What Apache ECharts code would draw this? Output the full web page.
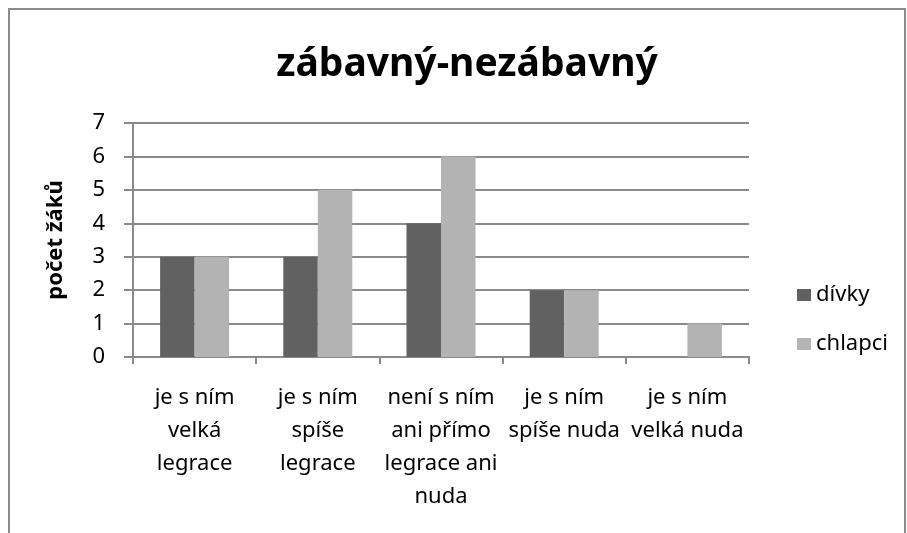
<!DOCTYPE html>
<html>
<head>
<meta charset="utf-8">
<script src="https://cdn.jsdelivr.net/npm/echarts@6/dist/echarts.min.js"></script>
<style>
  html, body { margin: 0; padding: 0; background: #fff; }
  #chart { width: 907px; height: 533px; }
</style>
</head>
<body>
<div id="chart"></div>
<script>
const categories = [
  'je s ním\nvelká\nlegrace',
  'je s ním\nspíše\nlegrace',
  'není s ním\nani přímo\nlegrace ani\nnuda',
  'je s ním\nspíše nuda',
  'je s ním\nvelká nuda'
]
const divky = [3, 3, 4, 2, 0]
const chlapci = [3, 5, 6, 2, 1]

const font = 'Noto Sans'
const gridColor = '#8a8a8a'

const chart = echarts.init(document.getElementById('chart'))

const option = {
  backgroundColor: '#fff',
  animation: false,
  title: {
    text: 'zábavný-nezábavný',
    left: 462,
    top: 40,
    textAlign: 'center',
    textStyle: { fontFamily: font, fontSize: 39, fontWeight: 'bold', color: '#000' }
  },
  graphic: [{
    type: 'rect',
    shape: { x: 9, y: 9, width: 896, height: 560 },
    style: { fill: 'none', stroke: '#8c8c8c', lineWidth: 2 },
    silent: true
  }],
  legend: {
    orient: 'vertical',
    left: 792,
    top: 279,
    itemWidth: 14,
    itemHeight: 12,
    itemGap: 27,
    itemStyle: { borderWidth: 0 },
    icon: 'rect',
    textStyle: { fontFamily: font, fontSize: 22, color: '#000' },
    data: ['dívky', 'chlapci']
  },
  grid: { left: 133, right: 158, top: 123, bottom: 176, containLabel: false },
  xAxis: {
    type: 'category',
    data: categories,
    axisLine: { lineStyle: { color: gridColor, width: 2 } },
    axisTick: { show: true, length: 7, lineStyle: { color: gridColor, width: 2 } },
    axisLabel: {
      interval: 0,
      margin: 24,
      fontFamily: font,
      fontSize: 22,
      lineHeight: 33,
      color: '#000'
    }
  },
  yAxis: {
    type: 'value',
    min: 0,
    max: 7,
    interval: 1,
    name: 'počet žáků',
    nameLocation: 'middle',
    nameGap: 66,
    nameTextStyle: { fontFamily: font, fontSize: 22, fontWeight: 'bold', color: '#000' },
    axisLine: { show: true, lineStyle: { color: gridColor, width: 2 } },
    axisTick: { show: true, length: 9, lineStyle: { color: gridColor, width: 2 } },
    axisLabel: { margin: 28, fontFamily: font, fontSize: 22, color: '#000' },
    splitLine: { lineStyle: { color: gridColor, width: 2 } }
  },
  series: [
    {
      name: 'dívky',
      type: 'bar',
      data: divky,
      barGap: '0%',
      barCategoryGap: '44%',
      itemStyle: { color: '#616161' }
    },
    {
      name: 'chlapci',
      type: 'bar',
      data: chlapci,
      itemStyle: { color: '#b3b3b3' }
    }
  ]
}

chart.setOption(option)
</script>
</body>
</html>
